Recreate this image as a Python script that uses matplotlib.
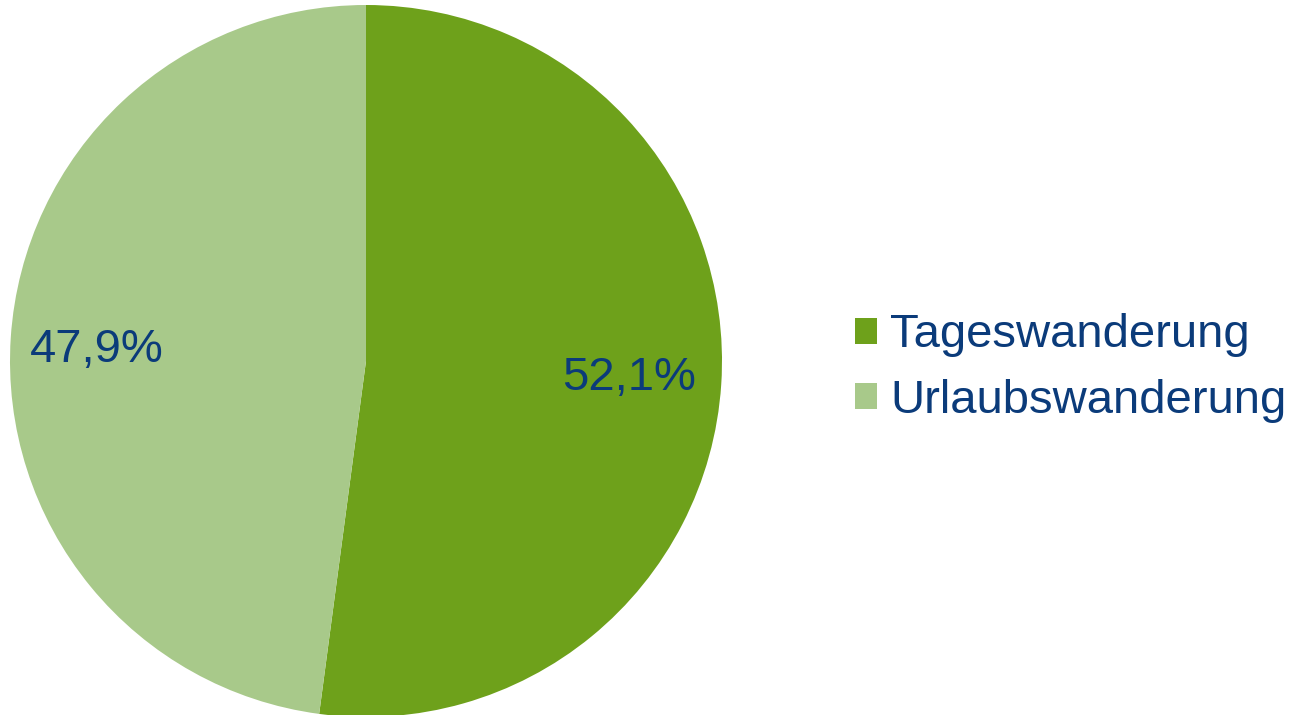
import matplotlib.pyplot as plt
from matplotlib.patches import Patch

labels = ['Tageswanderung', 'Urlaubswanderung']
shares = [52.1, 47.9]
colors = ['#6ea11b', '#a8c98a']
text_color = '#0b3b7a'

plt.rcParams['font.family'] = ['Liberation Sans', 'DejaVu Sans']

fig = plt.figure(figsize=(12.95, 7.15), dpi=100)
ax = fig.add_axes([10 / 1295, -2 / 715, 712 / 1295, 712 / 715])

wedges, texts, autotexts = ax.pie(
    shares, colors=colors, startangle=90, counterclock=False, radius=1,
    autopct=lambda p: ('%.1f%%' % p).replace('.', ','), pctdistance=0.74,
    wedgeprops=dict(linewidth=0),
    textprops=dict(color=text_color, fontsize=34))
# excel puts the second label a bit off the mid angle
autotexts[1].set_position((-0.755, 0.03))
ax.set_xlim(-1, 1)
ax.set_ylim(-1, 1)
ax.set_aspect('equal')
ax.axis('off')

handles = [Patch(facecolor=c, edgecolor='none') for c in colors]
leg = fig.legend(handles, labels, loc='center left',
                 bbox_to_anchor=(855 / 1295, 0.485), frameon=False,
                 fontsize=34, handlelength=0.47, handleheight=0.47,
                 handletextpad=0.28, labelspacing=0.46,
                 borderpad=0, borderaxespad=0)
for t in leg.get_texts():
    t.set_color(text_color)

fig.savefig('out.png', dpi=100)
